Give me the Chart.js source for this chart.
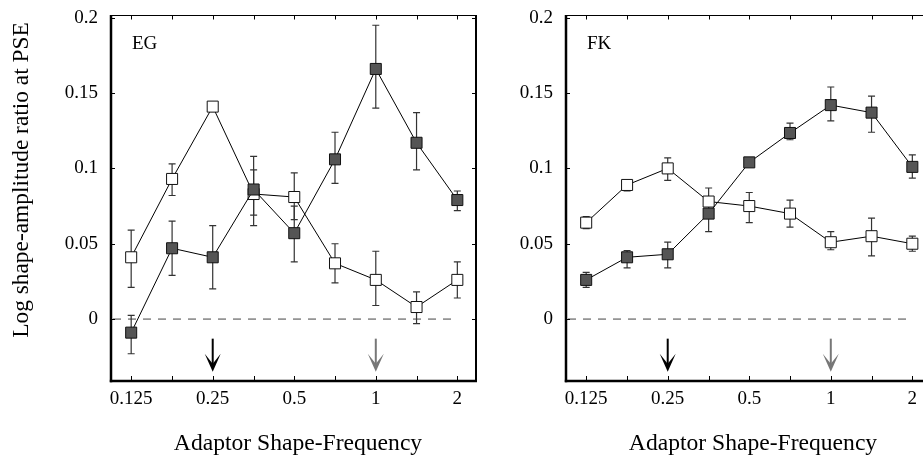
<!DOCTYPE html>
<html>
<head>
<meta charset="utf-8">
<script src="https://cdn.jsdelivr.net/npm/chart.js@4.4.1/dist/chart.umd.min.js"></script>
<style>
  html, body { margin: 0; padding: 0; background: #fff; overflow: hidden; width: 923px; height: 457px; }
  .wrap { position: absolute; top: 0; }
  #w1 { left: 0px; }
  #w2 { left: 455px; }
</style>
</head>
<body>
<div class="wrap" id="w1"><canvas id="c1" width="480" height="457"></canvas></div>
<div class="wrap" id="w2"><canvas id="c2" width="480" height="457"></canvas></div>
<script>
// ---- data ----
const xCats = [0.125, 0.177, 0.25, 0.354, 0.5, 0.707, 1, 1.414, 2];
const xTickValues = [0.125, 0.25, 0.5, 1, 2];
const xTickLabels = ["0.125", "0.25", "0.5", "1", "2"];
const yTickValues = [0, 0.05, 0.1, 0.15, 0.2];
const yTickLabels = ["0", "0.05", "0.1", "0.15", "0.2"];

// EG panel
const egFilled   = [-0.009, 0.047, 0.041, 0.086, 0.057, 0.106, 0.166, 0.117, 0.079];
const egFilledHi = [0.0024, 0.065, 0.062, 0.108, 0.075, 0.124, 0.195, 0.137, 0.085];
const egFilledLo = [-0.023, 0.029, 0.020, 0.062, 0.038, 0.090, 0.140, 0.099, 0.072];
const egOpen     = [0.041, 0.093, 0.141, 0.083, 0.081, 0.037, 0.026, 0.008, 0.026];
const egOpenHi   = [0.059, 0.103, 0.143, 0.099, 0.097, 0.050, 0.045, 0.018, 0.038];
const egOpenLo   = [0.021, 0.082, 0.139, 0.069, 0.066, 0.024, 0.009, -0.003, 0.014];

// FK panel
const fkFilled   = [0.026, 0.041, 0.043, 0.070, 0.104, 0.1235, 0.142, 0.137, 0.101];
const fkFilledHi = [0.031, 0.0455, 0.051, 0.081, 0.106, 0.130, 0.154, 0.148, 0.109];
const fkFilledLo = [0.021, 0.034, 0.034, 0.058, 0.102, 0.119, 0.1315, 0.124, 0.0935];
const fkOpen     = [0.064, 0.089, 0.100, 0.078, 0.075, 0.070, 0.051, 0.055, 0.050];
const fkOpenHi   = [0.068, 0.091, 0.107, 0.087, 0.084, 0.079, 0.058, 0.067, 0.055];
const fkOpenLo   = [0.060, 0.085, 0.092, 0.068, 0.064, 0.061, 0.046, 0.042, 0.045];

// adaptor arrows
const arrowX = [0.25, 1];
const arrowColors = ["#000000", "#777777"];
const arrowTop = -0.013;
const arrowTip = -0.035;

const yTitle = "Log shape-amplitude ratio at PSE";
const xTitle = "Adaptor Shape-Frequency";

// ---- drawing ----
const FONT = "'Liberation Serif', 'Times New Roman', serif";

function pts(vals) { return xCats.map((x, i) => ({ x: x, y: vals[i] })); }

const framePlugin = {
  id: 'frame',
  beforeDatasetsDraw(chart, args, opts) {
    const ctx = chart.ctx, a = chart.chartArea;
    const xs = chart.scales.x, ys = chart.scales.y;
    ctx.save();
    // zero dashed line
    const y0 = ys.getPixelForValue(0);
    ctx.strokeStyle = '#444'; ctx.lineWidth = 1; ctx.setLineDash([8, 7]);
    ctx.beginPath(); ctx.moveTo(a.left + 2, y0); ctx.lineTo(xs.getPixelForValue(xCats[xCats.length - 1]) - 3, y0); ctx.stroke();
    ctx.setLineDash([]);
    // error bars
    ctx.strokeStyle = '#333'; ctx.lineWidth = 1.2;
    opts.errors.forEach(e => {
      xCats.forEach((xv, i) => {
        const px = xs.getPixelForValue(xv);
        const hi = ys.getPixelForValue(e.hi[i]), lo = ys.getPixelForValue(e.lo[i]);
        ctx.beginPath();
        ctx.moveTo(px, hi); ctx.lineTo(px, lo);
        ctx.moveTo(px - 3.5, hi); ctx.lineTo(px + 3.5, hi);
        ctx.moveTo(px - 3.5, lo); ctx.lineTo(px + 3.5, lo);
        ctx.stroke();
      });
    });
    ctx.restore();
  },
  afterDatasetsDraw(chart, args, opts) {
    const ctx = chart.ctx, a = chart.chartArea;
    const xs = chart.scales.x, ys = chart.scales.y;
    ctx.save();
    // inner ticks
    ctx.strokeStyle = '#000'; ctx.lineWidth = 1;
    ctx.beginPath();
    xCats.forEach(xv => {
      const px = Math.round(xs.getPixelForValue(xv)) + 0.5;
      ctx.moveTo(px, a.top); ctx.lineTo(px, a.top + 4.5);
      ctx.moveTo(px, a.bottom); ctx.lineTo(px, a.bottom - 5);
    });
    yTickValues.forEach(yv => {
      const py = Math.round(ys.getPixelForValue(yv)) + 0.5;
      ctx.moveTo(a.left, py); ctx.lineTo(a.left + 4, py);
      ctx.moveTo(a.right, py); ctx.lineTo(a.right - 4, py);
    });
    ctx.stroke();
    // frame
    ctx.lineWidth = 1;
    ctx.beginPath(); ctx.moveTo(a.left, a.top + 0.5); ctx.lineTo(a.right, a.top + 0.5); ctx.stroke();
    ctx.lineWidth = 2;
    ctx.beginPath(); ctx.moveTo(a.right, a.top); ctx.lineTo(a.right, a.bottom); ctx.stroke();
    ctx.lineWidth = 2.5;
    ctx.beginPath(); ctx.moveTo(a.left, a.top); ctx.lineTo(a.left, a.bottom + 1.2); ctx.stroke();
    ctx.beginPath(); ctx.moveTo(a.left - 1.2, a.bottom); ctx.lineTo(a.right + 1, a.bottom); ctx.stroke();
    // arrows
    arrowX.forEach((xv, i) => {
      const px = xs.getPixelForValue(xv);
      const pt = ys.getPixelForValue(arrowTop), pb = ys.getPixelForValue(arrowTip);
      ctx.strokeStyle = arrowColors[i]; ctx.fillStyle = arrowColors[i];
      ctx.lineWidth = 2;
      ctx.beginPath(); ctx.moveTo(px, pt); ctx.lineTo(px, pb - 6); ctx.stroke();
      ctx.beginPath();
      ctx.moveTo(px, pb);
      ctx.lineTo(px - 8, pb - 18);
      ctx.lineTo(px, pb - 8);
      ctx.lineTo(px + 8, pb - 18);
      ctx.closePath(); ctx.fill();
    });
    // panel label
    ctx.fillStyle = '#000';
    ctx.font = "19px " + FONT;
    ctx.textBaseline = 'middle'; ctx.textAlign = 'left';
    ctx.fillText(opts.label, a.left + 21, a.top + 29);
    // x-axis title
    ctx.font = "23.6px " + FONT;
    ctx.textAlign = 'center'; ctx.textBaseline = 'middle';
    ctx.fillText(opts.xTitle, (a.left + a.right) / 2 + 4.5, a.bottom + 63);
    // y-axis title (left panel only)
    if (opts.yTitle) {
      ctx.save();
      ctx.translate(22, a.top + (a.bottom - a.top) / 2 - 18);
      ctx.rotate(-Math.PI / 2);
      ctx.font = "23.4px " + FONT;
      ctx.textAlign = 'center'; ctx.textBaseline = 'middle';
      ctx.fillText(opts.yTitle, 0, 0);
      ctx.restore();
    }
    ctx.restore();
  }
};

function makeChart(id, label, filled, filledHi, filledLo, open, openHi, openLo, showYTitle) {
  return new Chart(document.getElementById(id), {
    type: 'line',
    data: {
      datasets: [
        {
          data: pts(filled), borderColor: '#000', borderWidth: 1,
          pointStyle: 'rect', pointRadius: 7.8, pointHoverRadius: 7.8,
          pointBackgroundColor: '#555', pointBorderColor: '#111', pointBorderWidth: 1,
          fill: false, tension: 0
        },
        {
          data: pts(open), borderColor: '#000', borderWidth: 1,
          pointStyle: 'rect', pointRadius: 7.8, pointHoverRadius: 7.8,
          pointBackgroundColor: '#fff', pointBorderColor: '#111', pointBorderWidth: 1,
          fill: false, tension: 0
        }
      ]
    },
    options: {
      responsive: false, animation: false, devicePixelRatio: 1,
      layout: { autoPadding: false, padding: { top: 15, right: 4, bottom: 0, left: 0 } },
      plugins: {
        legend: { display: false }, tooltip: { enabled: false },
        frame: { label: label, xTitle: xTitle, yTitle: showYTitle ? yTitle : null,
                 errors: [ { hi: filledHi, lo: filledLo }, { hi: openHi, lo: openLo } ] }
      },
      scales: {
        x: {
          type: 'logarithmic', min: 0.1053, max: 2.344,
          grid: { display: false, drawTicks: false }, border: { display: false },
          afterBuildTicks: s => { s.ticks = xTickValues.map(v => ({ value: v })); },
          afterFit: s => { s.height = 76; s.paddingLeft = 0; s.paddingRight = 0; },
          ticks: {
            autoSkip: false, maxRotation: 0, padding: 7, color: '#000',
            font: { family: FONT, size: 19 },
            callback: (v) => { const i = xTickValues.indexOf(v); return i >= 0 ? xTickLabels[i] : ''; }
          },
          title: { display: false }
        },
        y: {
          type: 'linear', min: -0.0411, max: 0.2018,
          grid: { display: false, drawTicks: false }, border: { display: false },
          afterBuildTicks: s => { s.ticks = yTickValues.map(v => ({ value: v })); },
          afterFit: s => { s.width = 111; s.paddingTop = 0; s.paddingBottom = 0; },
          ticks: {
            padding: 13, color: '#000', font: { family: FONT, size: 19 },
            callback: (v) => { const i = yTickValues.indexOf(v); return i >= 0 ? yTickLabels[i] : ''; }
          },
          title: { display: false }
        }
      }
    },
    plugins: [framePlugin]
  });
}

makeChart('c1', 'EG', egFilled, egFilledHi, egFilledLo, egOpen, egOpenHi, egOpenLo, true);
makeChart('c2', 'FK', fkFilled, fkFilledHi, fkFilledLo, fkOpen, fkOpenHi, fkOpenLo, false);
</script>
</body>
</html>
